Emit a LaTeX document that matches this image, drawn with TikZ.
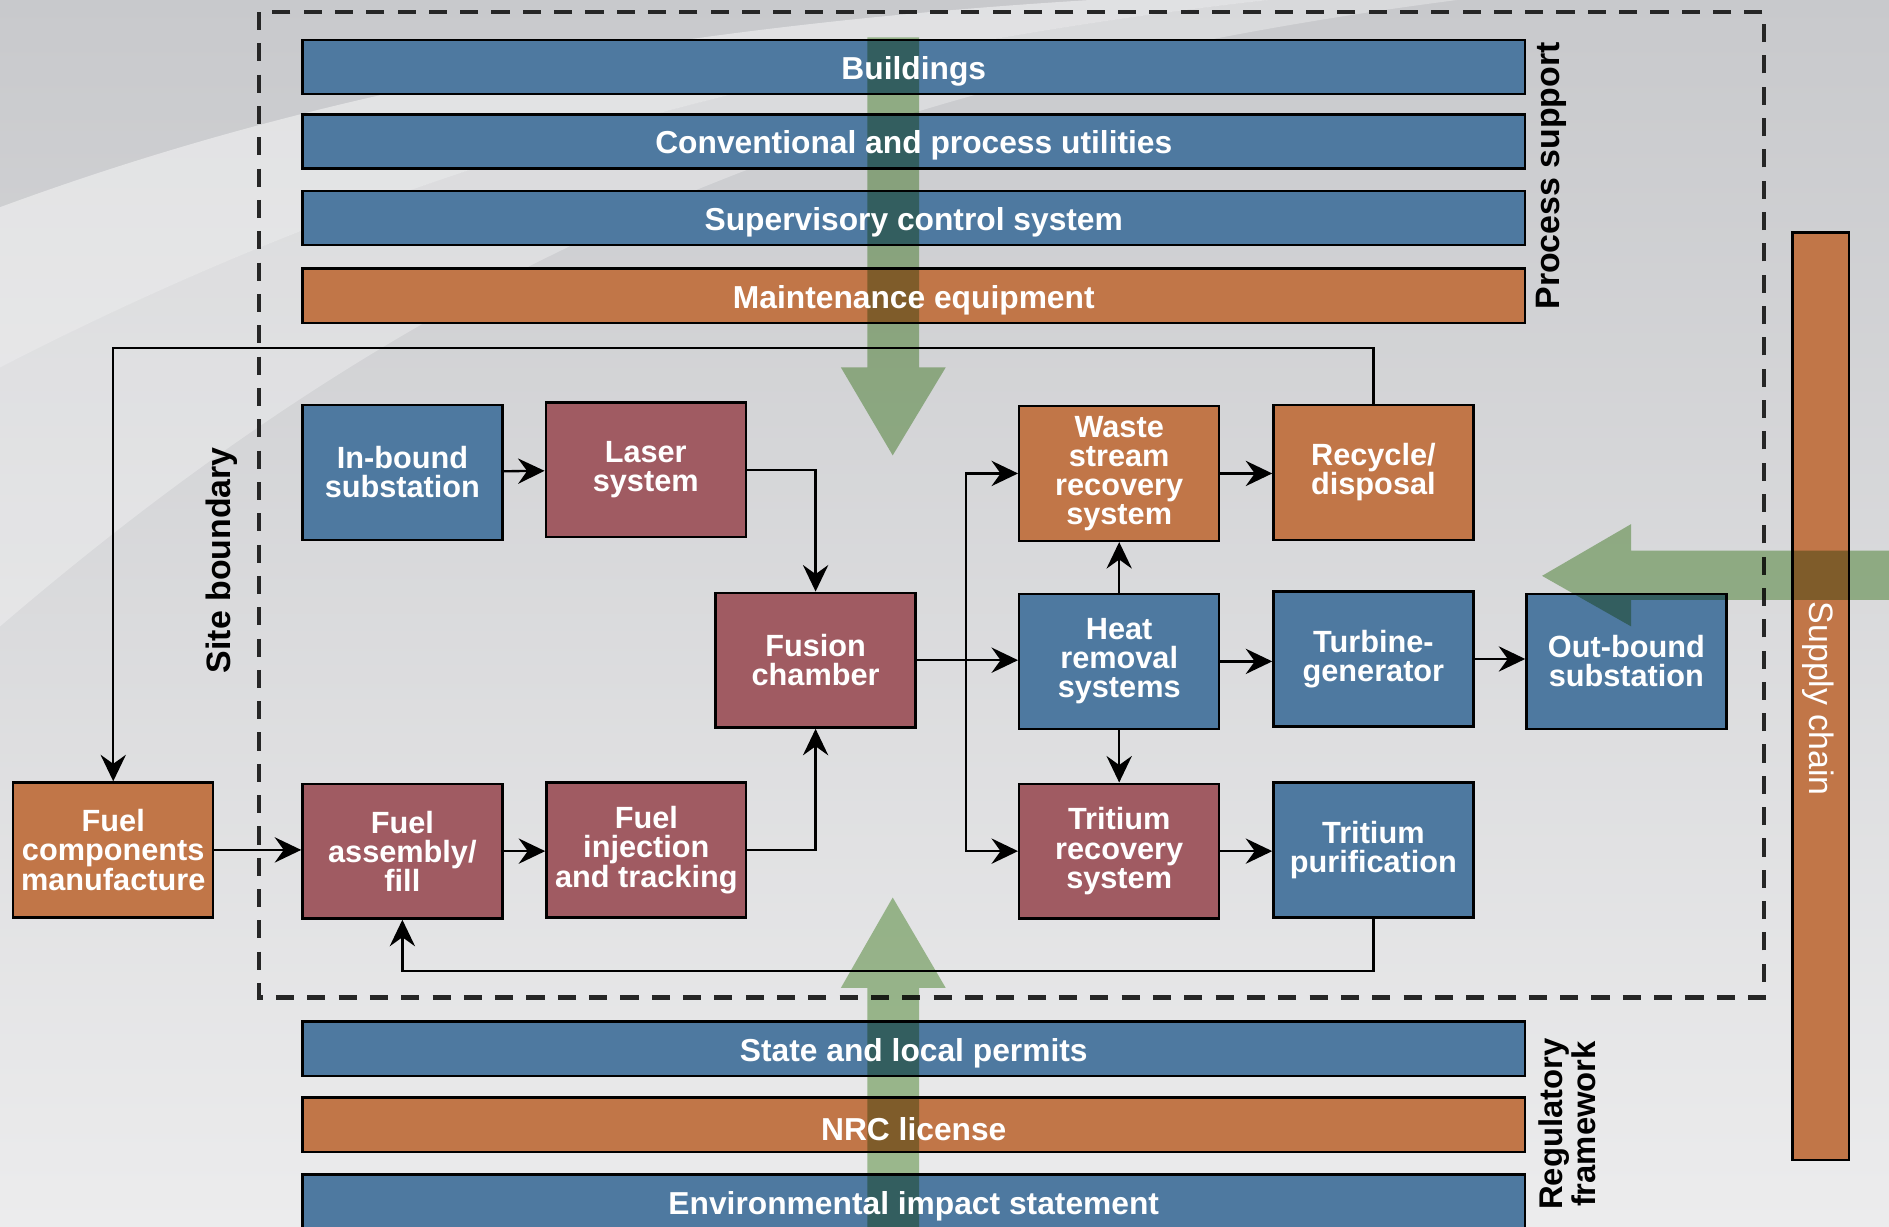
\documentclass[tikz,border=0pt]{standalone}
\usepackage{fontspec}
\setmainfont{Liberation Sans}
\usetikzlibrary{arrows.meta}

\definecolor{sysblue}{RGB}{78,121,160}
\definecolor{sysred}{RGB}{160,91,98}
\definecolor{sysorange}{RGB}{193,118,72}
\definecolor{flowgreen}{RGB}{168,200,152}

\tikzset{
  blk/.style={draw=black, line width=1.1pt, minimum width=33.2mm, minimum height=22.4mm,
    inner sep=0pt, align=center, text=white, font=\fontsize{14.5}{13.8}\selectfont\bfseries},
  bar/.style={draw=black, line width=1.1pt, minimum width=203mm, minimum height=9mm, inner sep=0pt},
  bartext/.style={yshift=-2pt, text=white, font=\fontsize{15}{16}\selectfont\bfseries},
  sidelabel/.style={rotate=90, align=center, font=\fontsize{16}{12.5}\selectfont\bfseries},
  arr/.style={line width=1.1pt, -{Stealth[length=4.4mm,width=4.2mm,inset=1.5mm]}},
  bigarrow/.style={fill=flowgreen, blend mode=multiply}
}

\begin{document}
\begin{tikzpicture}[x=0.2mm, y=-0.2mm]
    \useasboundingbox (0,0) rectangle (1568,1018);
    \clip (0,0) rectangle (1568,1018);

    % background
    \shade[top color={rgb,255:red,200;green,201;blue,204}, bottom color={rgb,255:red,236;green,236;blue,237}]
        (0,0) rectangle (1568,1018);
    \fill[white, opacity=0.45] (0,172) .. controls (250,80) and (550,15) .. (1000,-5)
        -- (1100,-5) .. controls (650,40) and (300,150) .. (0,305) -- cycle;
    \fill[white, opacity=0.3] (0,305) .. controls (300,150) and (650,40) .. (1100,-5)
        -- (1250,-5) .. controls (700,60) and (350,220) .. (0,520) -- cycle;

    % site boundary
    \draw[line width=2pt, draw=black!85, dash pattern=on 3mm off 2.2mm] (215,10) rectangle (1464,828);
    \node[sidelabel] (sitelbl) at (184,465) {Site boundary};

    % process support bars
    \node[bar, fill=sysblue] (bldg) at (758.5,55.5) {};
    \node[bar, fill=sysblue] (util) at (758.5,117.5) {};
    \node[bar, fill=sysblue] (ctrl) at (758.5,181) {};
    \node[bar, fill=sysorange] (maint) at (758.5,245.5) {};
    \node[sidelabel] (supportlbl) at (1288,146) {Process support};

    % regulatory bars
    \node[bar, fill=sysblue] (permit) at (758.5,870.5) {};
    \node[bar, fill=sysorange] (nrc) at (758.5,933.5) {};
    \node[bar, fill=sysblue] (eis) at (758.5,997.5) {};
    \node[sidelabel, font=\fontsize{15.5}{12.5}\selectfont\bfseries] (reglbl) at (1301,933) {Regulatory\\framework};

    % supply chain
    \node[draw=black, line width=1.1pt, fill=sysorange, minimum width=9.4mm, minimum height=154mm,
        inner sep=0pt] (supply) at (1511.5,578) {};
    \node[rotate=-90, text=white, font=\fontsize{16}{16}\selectfont] (supplylbl) at (1509,580) {Supply chain};

    % plant systems
    \node[blk, fill=sysblue] (inbound) at (334,392) {In-bound\\substation};
    \node[blk, fill=sysred] (laser) at (536,390) {Laser\\system};
    \node[blk, fill=sysred] (fusion) at (677,548) {Fusion\\chamber};
    \node[blk, fill=sysorange] (waste) at (929,393) {Waste\\stream\\recovery\\system};
    \node[blk, fill=sysorange] (recycle) at (1140,392) {Recycle/\\disposal};
    \node[blk, fill=sysblue] (heat) at (929,549) {Heat\\removal\\systems};
    \node[blk, fill=sysblue] (turbine) at (1140,547) {Turbine-\\generator};
    \node[blk, fill=sysblue] (outbound) at (1350,549) {Out-bound\\substation};
    \node[blk, fill=sysorange] (fuelcomp) at (94,705.5) {Fuel\\components\\manufacture};
    \node[blk, fill=sysred] (fuelasm) at (334,706.5) {Fuel\\assembly/\\fill};
    \node[blk, fill=sysred] (fuelinj) at (536.5,705.5) {Fuel\\injection\\and tracking};
    \node[blk, fill=sysred] (tritrec) at (929,706.5) {Tritium\\recovery\\system};
    \node[blk, fill=sysblue] (tritpur) at (1140,705.5) {Tritium\\purification};

    % connections
    \coordinate (split) at (802,548);
    \coordinate (wastebus) at (94,289);
    \coordinate (tritbus) at (334,806);
    \draw[arr] (inbound) -- (laser);
    \draw[arr] (laser.east) -| (fusion.north);
    \draw[arr] (fuelinj.east) -| (fusion.south);
    \draw[arr] (fusion.east) -- (fusion.east -| heat.west);
    \draw[arr] (split) |- (waste.west);
    \draw[arr] (split) |- (tritrec.west);
    \draw[arr] (heat.north) -- (waste.south);
    \draw[arr] (heat.south) -- (tritrec.north);
    \draw[arr] (waste.east) -- (waste.east -| recycle.west);
    \draw[arr] (heat.east) -- (heat.east -| turbine.west);
    \draw[arr] (turbine.east) -- (turbine.east -| outbound.west);
    \draw[arr] (tritrec.east) -- (tritrec.east -| tritpur.west);
    \draw[arr] (fuelcomp.east) -- (fuelcomp.east -| fuelasm.west);
    \draw[arr] (fuelasm.east) -- (fuelasm.east -| fuelinj.west);
    \draw[arr] (recycle.north) |- (wastebus) -- (fuelcomp.north);
    \draw[arr] (tritpur.south) |- (tritbus) -- (fuelasm.south);

    % green flow arrows
    \fill[bigarrow] (720,31) -- (763,31) -- (763,305) -- (785,305) -- (741,378)
        -- (698,305) -- (720,305) -- cycle;
    \fill[bigarrow] (720,1030) -- (720,820) -- (698,820) -- (741,745) -- (785,820)
        -- (763,820) -- (763,1030) -- cycle;
    \fill[bigarrow] (1580,457) -- (1354,457) -- (1354,435) -- (1280,478) -- (1354,520)
        -- (1354,498) -- (1580,498) -- cycle;

    % bar labels on top
    \node[bartext] (bldgtxt) at (bldg) {Buildings};
    \node[bartext] (utiltxt) at (util) {Conventional and process utilities};
    \node[bartext] (ctrltxt) at (ctrl) {Supervisory control system};
    \node[bartext] (mainttxt) at (maint) {Maintenance equipment};
    \node[bartext] (permittxt) at (permit) {State and local permits};
    \node[bartext] (nrctxt) at (nrc) {NRC license};
    \node[bartext] (eistxt) at (eis) {Environmental impact statement};
\end{tikzpicture}
\end{document}
